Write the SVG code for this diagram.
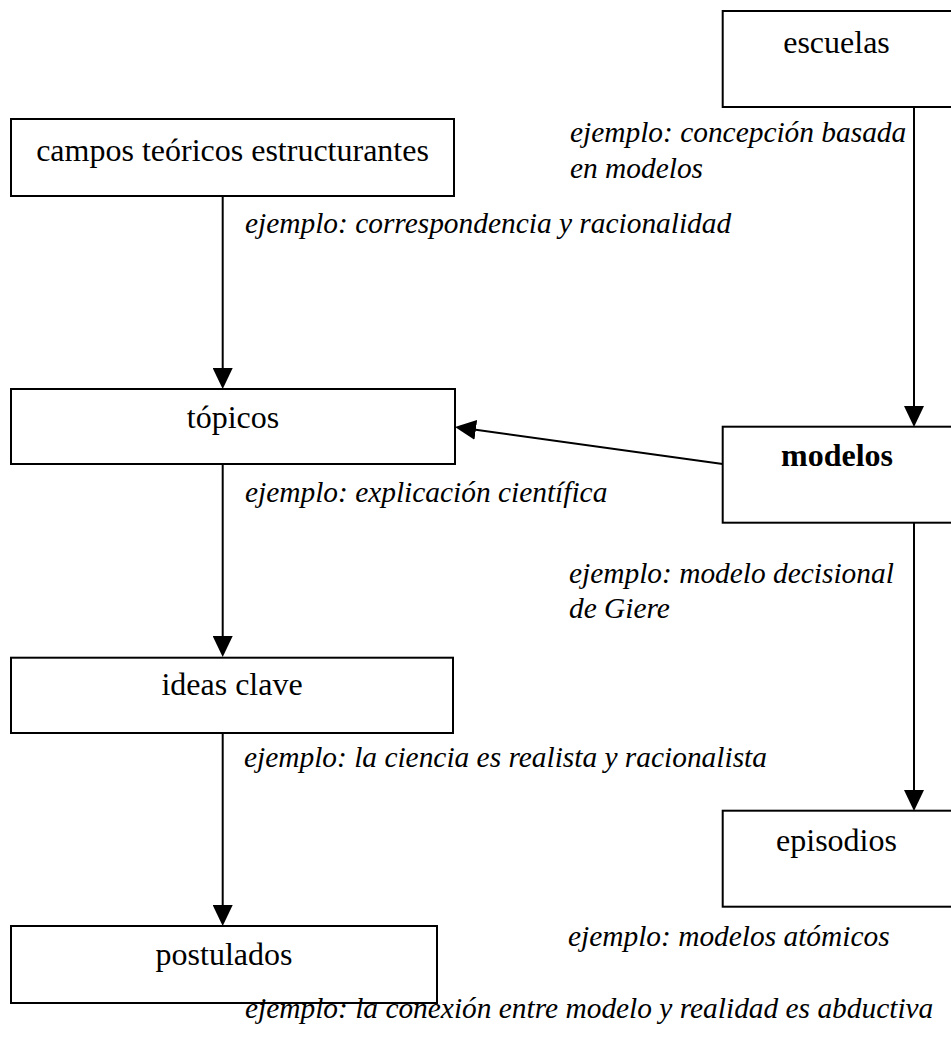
<svg xmlns="http://www.w3.org/2000/svg" width="951" height="1046" viewBox="0 0 951 1046">
  <style>
    .box { fill: #ffffff; stroke: #000000; stroke-width: 2; }
    .node { font-family: "Liberation Serif", "Times New Roman", serif; font-size: 32px; fill: #000000; text-anchor: middle; }
    .bold { font-weight: bold; }
    .lbl { font-family: "Liberation Serif", "Times New Roman", serif; font-size: 29.4px; font-style: italic; fill: #000000; }
    .edge { stroke: #000000; stroke-width: 2; fill: none; marker-end: url(#arrow); }
  </style>
  <defs>
    <marker id="arrow" viewBox="0 0 21 20" refX="11" refY="10" markerWidth="21" markerHeight="20" markerUnits="userSpaceOnUse" orient="auto">
      <path d="M0,0 L21,10 L0,20 Z" fill="#000000"/>
    </marker>
  </defs>
  <rect width="951" height="1046" fill="#ffffff"/>

  <!-- connectors -->
  <g id="connectors">
    <line class="edge" x1="222.7" y1="196" x2="222.7" y2="379"/>
    <line class="edge" x1="222.7" y1="464" x2="222.7" y2="647"/>
    <line class="edge" x1="222.7" y1="733" x2="222.7" y2="916"/>
    <line class="edge" x1="914" y1="107" x2="914" y2="417"/>
    <line class="edge" x1="914" y1="523" x2="914" y2="801"/>
    <line class="edge" x1="722.7" y1="464" x2="464.9" y2="428.3"/>
  </g>

  <!-- nodes -->
  <g id="escuelas">
    <rect class="box" x="722.7" y="11" width="230" height="96"/>
    <text class="node" x="836.5" y="53">escuelas</text>
  </g>
  <g id="campos">
    <rect class="box" x="11" y="119" width="443" height="77"/>
    <text class="node" x="232.5" y="161">campos teóricos estructurantes</text>
  </g>
  <g id="topicos">
    <rect class="box" x="11" y="389" width="444" height="75"/>
    <text class="node" x="233" y="428">tópicos</text>
  </g>
  <g id="modelos">
    <rect class="box" x="722.7" y="426.7" width="230" height="96"/>
    <text class="node bold" x="837" y="466">modelos</text>
  </g>
  <g id="ideas-clave">
    <rect class="box" x="11" y="657.7" width="442" height="75.3"/>
    <text class="node" x="232" y="695">ideas clave</text>
  </g>
  <g id="episodios">
    <rect class="box" x="722.7" y="810.7" width="230" height="96"/>
    <text class="node" x="836.5" y="851">episodios</text>
  </g>
  <g id="postulados">
    <rect class="box" x="11" y="926" width="426" height="77"/>
    <text class="node" x="224" y="965">postulados</text>
  </g>

  <!-- example labels -->
  <g id="labels">
    <text class="lbl" x="570" y="142">ejemplo: concepción basada</text>
    <text class="lbl" x="570" y="178">en modelos</text>
    <text class="lbl" x="245" y="233">ejemplo: correspondencia y racionalidad</text>
    <text class="lbl" x="245" y="502">ejemplo: explicación científica</text>
    <text class="lbl" x="569" y="583">ejemplo: modelo decisional</text>
    <text class="lbl" x="569" y="618">de Giere</text>
    <text class="lbl" x="244" y="767">ejemplo: la ciencia es realista y racionalista</text>
    <text class="lbl" x="568" y="946">ejemplo: modelos atómicos</text>
    <text class="lbl" x="245" y="1018">ejemplo: la conexión entre modelo y realidad es abductiva</text>
  </g>
</svg>
